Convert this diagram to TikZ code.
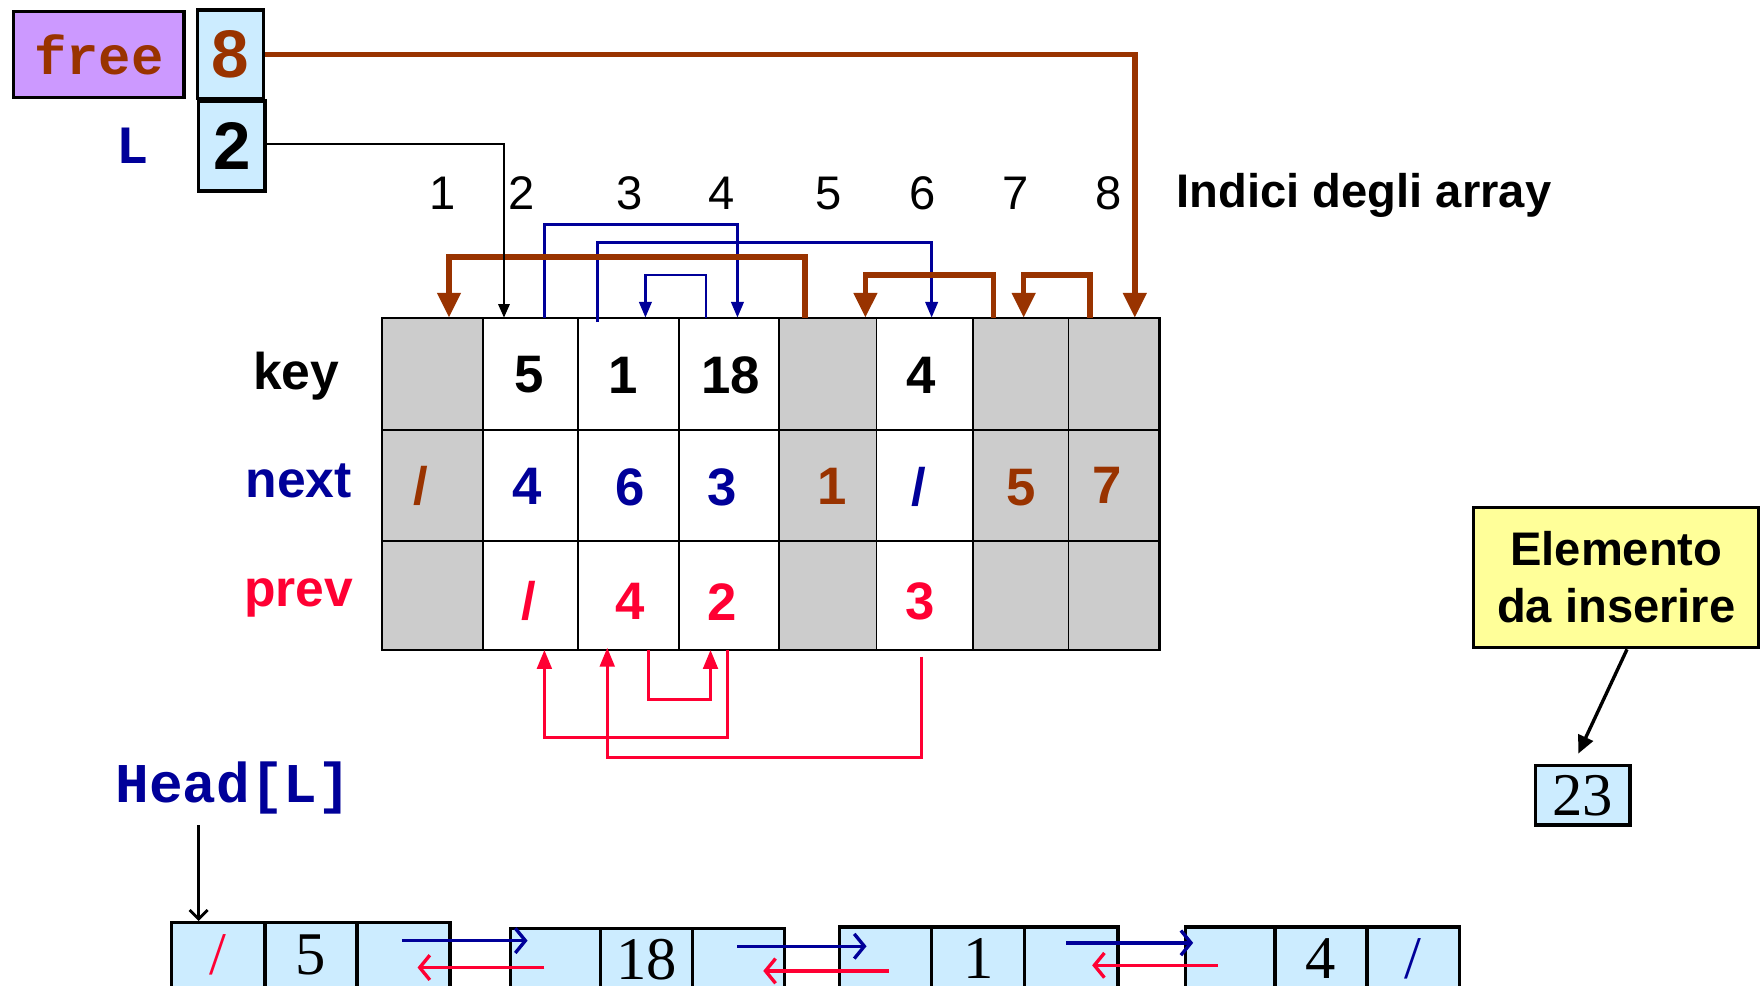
\documentclass[tikz,border=0pt]{standalone}
\usepackage{fontspec}
\setmainfont{Liberation Sans}
\newfontfamily\monof{Liberation Mono}
\newfontfamily\seriff{Liberation Serif}
\usetikzlibrary{arrows.meta,calc}
\definecolor{fbrown}{HTML}{993300}
\definecolor{fblue}{HTML}{000099}
\definecolor{fred}{HTML}{FF0033}
\definecolor{fpurple}{HTML}{CC99FF}
\definecolor{flight}{HTML}{CCECFF}
\definecolor{fgray}{HTML}{CCCCCC}
\definecolor{fyellow}{HTML}{FFFF99}
\tikzset{
 hbox/.style={draw=black, line width=3pt, inner sep=0pt, font=\bfseries\fontsize{60}{60}\selectfont},
 cell/.style={draw=black, line width=1.5pt, inner sep=0pt, outer sep=0pt},
 val/.style={inner sep=0pt, font=\bfseries\fontsize{47}{47}\selectfont},
 rowlab/.style={inner sep=0pt, anchor=base, font=\bfseries\fontsize{46}{46}\selectfont},
 idx/.style={inner sep=0pt, font=\fontsize{42}{42}\selectfont},
 brownarr/.style={draw=fbrown, line width=5pt, -{Triangle[width=20pt,length=22pt]}},
 bluearr/.style={draw=fblue, line width=2.5pt, -{Triangle[width=11pt,length=14pt]}},
 redarr/.style={draw=fred, line width=3pt, -{Triangle[width=13pt,length=17pt]}},
 blackarr/.style={draw=black, line width=2pt, -{Triangle[width=10pt,length=12pt]}},
 lcell/.style={draw=black, line width=3pt, fill=flight, inner sep=0pt, font=\seriff\fontsize{54}{54}\selectfont},
 listblue/.style={draw=fblue, line width=3pt, -{Straight Barb[length=9pt,width=22pt]}},
 listred/.style={draw=fred, line width=3pt, -{Straight Barb[length=9pt,width=22pt]}},
}
\begin{document}
\begin{tikzpicture}[x=1pt,y=-1pt]
\useasboundingbox (0,0) rectangle (1568,878);
\clip (0,0) rectangle (1568,878);
\fill[white] (0,0) rectangle (1568,878);

% header boxes
\node[hbox, fill=fpurple, minimum width=152, minimum height=77] (freebox) at (88,48.5) {\monof\bfseries\fontsize{48}{48}\selectfont\color{fbrown}free};
\node[hbox, fill=flight, minimum width=59, minimum height=79] (freeval) at (205.5,48.5) {\color{fbrown}8};
\node[hbox, fill=flight, minimum width=59, minimum height=80] (lval) at (206.5,130) {2};
\node[inner sep=0pt, font=\monof\bfseries\fontsize{48}{48}\selectfont, text=fblue] (lname) at (118,130) {L};

% indices
\foreach \i/\x in {1/394,2/465,3/561,4/643,5/738,6/822,7/905,8/988}
  \node[idx] (i\i) at (\x,172) {\i};
\node[anchor=base west, inner sep=0pt, font=\bfseries\fontsize{42}{42}\selectfont] (indici) at (1048,185) {Indici degli array};

% grid
\foreach \i/\l/\r/\f in {1/340/430/fgray,2/430/515/white,3/515/605/white,4/605/694/white,5/694/781/fgray,6/781/867/white,7/867/952/fgray,8/952/1033/fgray}{
  \node[cell, fill=\f, minimum width={(\r-\l)*1pt}, minimum height=100pt] (k\i) at ({(\l+\r)/2},333) {};
  \node[cell, fill=\f, minimum width={(\r-\l)*1pt}, minimum height=99pt] (n\i) at ({(\l+\r)/2},432.5) {};
  \node[cell, fill=\f, minimum width={(\r-\l)*1pt}, minimum height=97pt] (p\i) at ({(\l+\r)/2},530.5) {};
}
\draw[line width=2pt] (k1.north west) rectangle (p8.south east);

% row labels
\node[rowlab] (lkey) at (264,347) {key};
\node[rowlab, text=fblue] (lnext) at (266,443) {next};
\node[rowlab, text=fred] (lprev) at (266,540) {prev};

% values
\node[val] (vk2) at (471,334) {5};
\node[val] (vk3) at (555,334) {1};
\node[val] (vk4) at (651,334) {18};
\node[val] (vk6) at (821,334) {4};
\node[val, text=fbrown] (vn1) at (375,433) {/};
\node[val, text=fblue] (vn2) at (470,433) {4};
\node[val, text=fblue] (vn3) at (561,434) {6};
\node[val, text=fblue] (vn4) at (643,434) {3};
\node[val, text=fbrown] (vn5) at (741,433) {1};
\node[val, text=fblue] (vn6) at (819,434) {/};
\node[val, text=fbrown] (vn7) at (910,434) {5};
\node[val, text=fbrown] (vn8) at (986,432) {7};
\node[val, text=fred] (vp2) at (471,535) {/};
\node[val, text=fred] (vp3) at (561,536) {4};
\node[val, text=fred] (vp4) at (643,536) {2};
\node[val, text=fred] (vp6) at (820,536) {3};

% next-list arrows (blue)
\draw[bluearr] ([xshift=12.5pt]k2.north) -- ([xshift=12.5pt]k2.north |- 0,200) -- ([xshift=7.5pt]k4.north |- 0,200) -- ([xshift=7.5pt]k4.north);
\draw[bluearr] ([xshift=-20.5pt]k4.north) -- ([xshift=-20.5pt]k4.north |- 0,245) -- ([xshift=15pt]k3.north |- 0,245) -- ([xshift=15pt]k3.north);
\draw[bluearr] ([xshift=-28pt,yshift=-4pt]k3.north) -- ([xshift=-28pt]k3.north |- 0,216) -- ([xshift=6pt]k6.north |- 0,216) -- ([xshift=6pt]k6.north);

% free-list arrows (brown)
\draw[brownarr] ([xshift=-20.5pt]k5.north) -- ([xshift=-20.5pt]k5.north |- 0,229) -- ([xshift=15pt]k1.north |- 0,229) -- ([xshift=15pt]k1.north);
\draw[brownarr] ([xshift=-24.5pt]k7.north) -- ([xshift=-24.5pt]k7.north |- 0,245) -- ([xshift=33.5pt]k5.north |- 0,245) -- ([xshift=33.5pt]k5.north);
\draw[brownarr] ([xshift=-21.5pt]k8.north) -- ([xshift=-21.5pt]k8.north |- 0,245) -- ([xshift=2.5pt]k7.north |- 0,245) -- ([xshift=2.5pt]k7.north);
\draw[brownarr] (freeval.east) -- ([xshift=18.5pt]k8.north |- freeval.east) -- ([xshift=18.5pt]k8.north);

% L pointer
\draw[blackarr] ([yshift=2pt]lval.east) -- ([xshift=-23.5pt]k2.north |- 0,128) -- ([xshift=-23.5pt]k2.north);

% prev arrows (red)
\draw[redarr] ([xshift=18pt]p3.south) -- ([xshift=18pt]p3.south |- 0,623) -- ([xshift=-16.5pt]p4.south |- 0,623) -- ([xshift=-16.5pt]p4.south);
\draw[redarr] ([xshift=-1.5pt]p4.south) -- ([xshift=-1.5pt]p4.south |- 0,657) -- ([xshift=12.5pt]p2.south |- 0,657) -- ([xshift=12.5pt]p2.south);
\draw[redarr] ([xshift=-3pt,yshift=-6pt]p6.south) -- ([xshift=-3pt]p6.south |- 0,675) -- ([xshift=-19pt]p3.south |- 0,675) -- ([xshift=-19pt,yshift=2pt]p3.south);

% Head[L]
\node[inner sep=0pt, font=\monof\bfseries\fontsize{50}{50}\selectfont, text=fblue] (head) at (208,702) {Head[L]};

% list
\node[lcell, minimum width=83, minimum height=58] (a1) at (194.5,851) {\color{fred}/};
\node[lcell, minimum width=82, minimum height=58] (a2) at (277,851) {5};
\node[lcell, minimum width=83, minimum height=58] (a3) at (359.5,851) {};
\node[lcell, minimum width=80, minimum height=56] (b1) at (495,855) {};
\node[lcell, minimum width=82, minimum height=56] (b2) at (576,855) {18};
\node[lcell, minimum width=82, minimum height=56] (b3) at (658,855) {};
\node[lcell, minimum width=82, minimum height=56] (c1) at (789,854) {};
\node[lcell, minimum width=83, minimum height=56] (c2) at (871.5,854) {1};
\node[lcell, minimum width=83, minimum height=56] (c3) at (954.5,854) {};
\node[lcell, minimum width=80, minimum height=56] (d1) at (1096,854) {};
\node[lcell, minimum width=82, minimum height=56] (d2) at (1177,854) {4};
\node[lcell, minimum width=82, minimum height=56] (d3) at (1259,854) {\color{fblue}/};

\coordinate (hstart) at (177,735);
\draw[draw=black, line width=2.5pt, -{Straight Barb[length=8pt,width=16pt]}] (hstart) -- (hstart |- a1.north);

\draw[listblue] ($(a3.center)+(-1.5,-13)$) -- ($(b1.center)+(-25,-17)$);
\draw[listred] ($(b1.center)+(-10,7)$) -- ($(a3.center)+(12.5,11)$);
\draw[listblue] ($(b3.center)+(-1,-12)$) -- ($(c1.center)+(-17,-11)$);
\draw[listred] ($(c1.center)+(3,11)$) -- ($(b3.center)+(22,10)$);
\draw[listblue] ($(c3.center)+(-4.5,-14)$) -- ($(d1.center)+(-33,-14)$);
\draw[listred] ($(d1.center)+(-11,6)$) -- ($(c3.center)+(18.5,6)$);

% element to insert
\node[draw=black, line width=3pt, fill=fyellow, minimum width=254, minimum height=125, inner sep=0pt, align=center, font=\bfseries\fontsize{42}{51}\selectfont] (elem) at (1440,514.5) {Elemento\\da inserire};
\node[lcell, minimum width=84, minimum height=53] (n23) at (1410,708.5) {23};
\draw[draw=black, line width=3pt, -{Triangle[width=14pt,length=16pt]}] ([xshift=9.5pt]elem.south) -- ([xshift=-4pt,yshift=9pt]n23.north);
\end{tikzpicture}
\end{document}
